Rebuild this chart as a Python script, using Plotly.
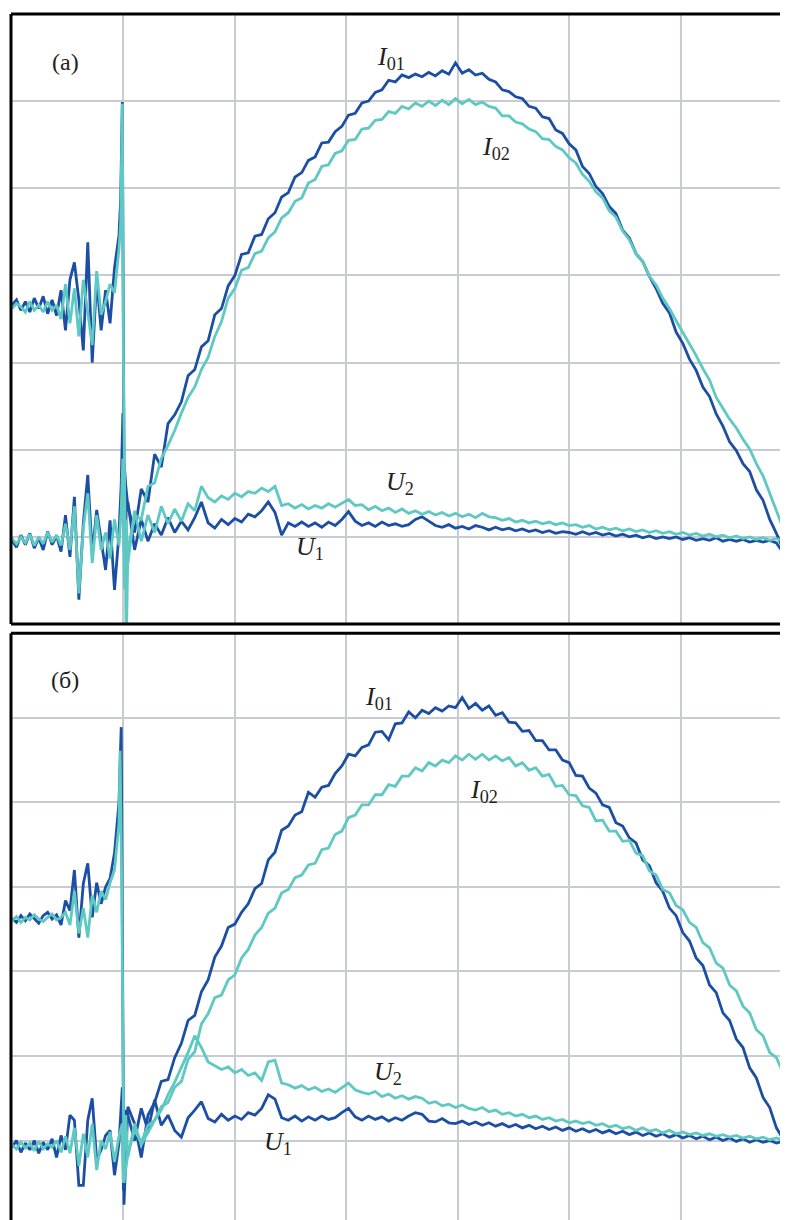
import numpy as np
import plotly.graph_objects as go

# oscillograms, values in screen divisions (7 x 7 grid per panel)
# sampling: pre-trigger every 0.04 div from 0, post-trigger every 0.06 div from 1.04
PRE_STEP, POST_START, POST_STEP = 0.04, 1.04, 0.06

# ---------------- panel (a) ----------------
a_i01_pre = [3.66, 3.72, 3.60, 3.70, 3.58, 3.74, 3.62, 3.76, 3.56, 3.72,
             3.54, 3.83, 3.37, 3.95, 4.15, 3.72, 3.14, 4.38, 3.00, 3.95,
             3.37, 3.83, 3.45, 4.09, 4.46]
a_i01_spk_x = [0.975, 0.99, 1.005, 1.02]
a_i01_spk = [4.87, 5.99, 1.88, 1.60]
a_i01_post = [1.35, 1.05, 1.55, 1.40, 1.95, 1.80, 2.30, 2.40, 2.55, 2.85,
              2.92, 3.18, 3.25, 3.55, 3.62, 3.88, 4.00, 4.24, 4.26, 4.45,
              4.47, 4.65, 4.72, 4.90, 4.95, 5.13, 5.18, 5.32, 5.36, 5.52,
              5.53, 5.65, 5.71, 5.84, 5.86, 5.98, 6.00, 6.10, 6.13, 6.24,
              6.22, 6.30, 6.27, 6.31, 6.28, 6.33, 6.29, 6.35, 6.31, 6.44,
              6.32, 6.36, 6.30, 6.32, 6.25, 6.22, 6.13, 6.11, 6.05, 6.03,
              5.94, 5.92, 5.82, 5.80, 5.67, 5.63, 5.51, 5.44, 5.25, 5.17,
              5.02, 4.94, 4.79, 4.71, 4.52, 4.43, 4.25, 4.16, 3.99, 3.85,
              3.68, 3.57, 3.35, 3.22, 3.04, 2.91, 2.72, 2.61, 2.41, 2.27,
              2.09, 1.99, 1.84, 1.75, 1.54, 1.42, 1.20, 1.04, 0.86, 0.95]

a_i02_pre = [3.62, 3.68, 3.64, 3.58, 3.70, 3.60, 3.66, 3.58, 3.70, 3.60,
             3.66, 3.50, 3.90, 3.45, 3.85, 3.30, 3.95, 3.55, 3.20, 4.05,
             3.55, 3.70, 3.90, 3.80, 4.30]
a_i02_spk_x = [0.975, 0.99, 1.0, 1.025]
a_i02_spk = [4.60, 5.97, 3.00, -0.30]
a_i02_post = [0.85, 1.25, 1.20, 1.58, 1.62, 1.90, 2.05, 2.22, 2.42, 2.60,
              2.72, 2.92, 3.06, 3.30, 3.47, 3.74, 3.85, 4.06, 4.09, 4.25,
              4.28, 4.43, 4.50, 4.66, 4.72, 4.85, 4.89, 5.06, 5.10, 5.25,
              5.27, 5.40, 5.43, 5.55, 5.56, 5.68, 5.69, 5.78, 5.79, 5.88,
              5.86, 5.94, 5.91, 5.98, 5.94, 6.00, 5.95, 6.01, 5.96, 6.03,
              5.97, 6.02, 5.96, 5.99, 5.94, 5.92, 5.83, 5.83, 5.76, 5.74,
              5.68, 5.65, 5.57, 5.56, 5.48, 5.44, 5.35, 5.29, 5.16, 5.08,
              4.96, 4.89, 4.74, 4.67, 4.51, 4.41, 4.25, 4.16, 3.99, 3.89,
              3.74, 3.62, 3.48, 3.35, 3.21, 3.08, 2.93, 2.80, 2.60, 2.48,
              2.35, 2.25, 2.12, 2.01, 1.84, 1.70, 1.50, 1.30, 1.10, 0.90]

a_u1_pre = [0.96, 0.88, 1.02, 0.91, 1.04, 0.87, 0.99, 0.85, 1.06, 0.91,
            1.01, 0.83, 1.25, 0.77, 1.46, 0.28, 1.16, 1.71, 0.81, 1.31,
            0.96, 0.62, 1.19, 0.39, 1.04]
a_u1_spk_x = [0.98, 0.995, 1.01, 1.025]
a_u1_spk = [1.60, 2.42, 0.60, 1.30]
a_u1_post = [1.40, 0.85, 1.20, 0.95, 1.15, 1.02, 1.22, 1.05, 1.18, 1.08,
             1.22, 1.40, 1.16, 1.10, 1.20, 1.14, 1.21, 1.17, 1.26, 1.23,
             1.30, 1.40, 1.28, 1.02, 1.16, 1.12, 1.17, 1.12, 1.16, 1.11,
             1.17, 1.13, 1.20, 1.29, 1.18, 1.13, 1.16, 1.12, 1.17, 1.13,
             1.15, 1.12, 1.14, 1.20, 1.23, 1.18, 1.13, 1.11, 1.14, 1.10,
             1.12, 1.09, 1.13, 1.11, 1.08, 1.11, 1.08, 1.10, 1.07, 1.09,
             1.06, 1.08, 1.05, 1.07, 1.04, 1.06, 1.05, 1.03, 1.06, 1.03,
             1.05, 1.02, 1.04, 1.01, 1.03, 1.00, 1.02, 0.99, 1.01, 0.98,
             1.00, 0.98, 1.00, 0.97, 0.99, 0.96, 0.98, 0.96, 0.99, 0.95,
             0.97, 0.95, 0.97, 0.94, 0.96, 0.94, 0.96, 0.93, 0.82, 0.92]

a_u2_pre = [0.98, 0.92, 1.00, 0.93, 1.03, 0.90, 1.00, 0.92, 1.05, 0.94,
            1.02, 0.90, 1.15, 0.85, 1.35, 0.35, 1.10, 1.50, 0.70, 1.25,
            0.85, 1.05, 0.75, 1.20, 0.90]
a_u2_spk_x = [0.98, 0.995, 1.01, 1.025]
a_u2_spk = [1.30, 1.90, 0.40, 1.20]
a_u2_post = [0.70, 1.30, 0.95, 1.25, 1.05, 1.35, 1.15, 1.32, 1.18, 1.38,
             1.30, 1.58, 1.45, 1.40, 1.47, 1.43, 1.50, 1.46, 1.52, 1.50,
             1.56, 1.52, 1.58, 1.36, 1.38, 1.33, 1.37, 1.32, 1.36, 1.33,
             1.38, 1.34, 1.39, 1.43, 1.36, 1.37, 1.31, 1.35, 1.30, 1.33,
             1.28, 1.32, 1.27, 1.30, 1.26, 1.29, 1.25, 1.28, 1.24, 1.27,
             1.23, 1.26, 1.22, 1.27, 1.23, 1.22, 1.19, 1.21, 1.17, 1.19,
             1.16, 1.18, 1.15, 1.17, 1.14, 1.16, 1.13, 1.14, 1.11, 1.13,
             1.09, 1.11, 1.08, 1.10, 1.07, 1.09, 1.06, 1.08, 1.05, 1.07,
             1.04, 1.06, 1.03, 1.05, 1.02, 1.04, 1.01, 1.03, 1.00, 1.02,
             0.99, 1.01, 0.98, 1.00, 0.97, 0.99, 0.96, 0.98, 0.95, 0.93]

# ---------------- panel (б) ----------------
b_i01_pre = [3.63, 3.58, 3.66, 3.60, 3.68, 3.62, 3.57, 3.66, 3.70, 3.62,
             3.67, 3.55, 3.84, 3.72, 4.20, 3.40, 4.04, 4.28, 3.64, 4.05,
             3.80, 4.00, 4.10, 4.40, 5.00]
b_i01_spk_x = [0.98, 0.995, 1.005]
b_i01_spk = [5.89, 3.20, 0.24]
b_i01_post = [1.40, 1.20, 0.80, 1.30, 1.45, 1.70, 1.72, 1.98, 2.15, 2.42,
              2.48, 2.76, 2.90, 3.17, 3.30, 3.52, 3.56, 3.70, 3.80, 3.98,
              4.04, 4.32, 4.41, 4.67, 4.72, 4.85, 4.89, 5.12, 5.06, 5.18,
              5.20, 5.34, 5.43, 5.57, 5.55, 5.65, 5.68, 5.83, 5.84, 5.74,
              5.93, 5.94, 6.07, 6.00, 6.09, 6.05, 6.12, 6.08, 6.14, 6.12,
              6.24, 6.11, 6.17, 6.09, 6.14, 6.03, 6.06, 5.95, 5.94, 5.84,
              5.85, 5.73, 5.73, 5.62, 5.62, 5.50, 5.47, 5.32, 5.31, 5.17,
              5.11, 4.97, 4.94, 4.76, 4.72, 4.58, 4.52, 4.32, 4.25, 4.05,
              3.95, 3.75, 3.66, 3.46, 3.36, 3.16, 3.07, 2.84, 2.75, 2.51,
              2.42, 2.20, 2.10, 1.86, 1.74, 1.51, 1.39, 1.15, 1.02, 0.93]

b_i02_pre = [3.60, 3.65, 3.58, 3.64, 3.61, 3.67, 3.62, 3.59, 3.64, 3.68,
             3.61, 3.64, 3.70, 3.55, 3.95, 3.45, 3.75, 3.40, 3.90, 3.70,
             3.95, 3.85, 4.05, 4.20, 4.75]
b_i02_spk_x = [0.97, 0.985, 1.005]
b_i02_spk = [5.61, 4.00, 0.50]
b_i02_post = [0.85, 1.12, 0.98, 1.18, 1.24, 1.40, 1.45, 1.63, 1.70, 1.96,
              2.05, 2.38, 2.50, 2.69, 2.72, 2.90, 2.96, 3.16, 3.26, 3.43,
              3.52, 3.69, 3.75, 3.93, 3.97, 4.11, 4.14, 4.26, 4.28, 4.44,
              4.46, 4.62, 4.66, 4.82, 4.85, 4.97, 4.97, 5.09, 5.09, 5.21,
              5.19, 5.31, 5.31, 5.41, 5.37, 5.47, 5.43, 5.50, 5.47, 5.55,
              5.50, 5.57, 5.51, 5.57, 5.50, 5.55, 5.49, 5.53, 5.43, 5.47,
              5.38, 5.41, 5.31, 5.33, 5.19, 5.20, 5.09, 5.08, 4.96, 4.94,
              4.78, 4.79, 4.66, 4.66, 4.54, 4.55, 4.40, 4.37, 4.19, 4.14,
              3.97, 3.93, 3.78, 3.73, 3.58, 3.52, 3.34, 3.28, 3.10, 3.04,
              2.84, 2.77, 2.59, 2.51, 2.31, 2.24, 2.04, 1.98, 1.80, 1.74]

b_u1_pre = [0.92, 1.00, 0.86, 0.97, 0.89, 1.00, 0.85, 0.98, 0.89, 1.02,
            0.80, 1.06, 0.89, 1.30, 1.24, 0.47, 0.47, 1.24, 1.50, 0.77,
            0.89, 1.06, 1.12, 0.59, 0.97]
b_u1_spk_x = [0.99, 1.0, 1.02]
b_u1_spk = [1.63, 0.41, 1.36]
b_u1_post = [1.30, 1.00, 1.38, 1.12, 1.48, 1.18, 1.30, 1.12, 1.04, 1.27,
             1.36, 1.46, 1.26, 1.22, 1.31, 1.24, 1.29, 1.25, 1.33, 1.30,
             1.38, 1.54, 1.49, 1.27, 1.24, 1.29, 1.23, 1.28, 1.24, 1.29,
             1.25, 1.27, 1.33, 1.38, 1.28, 1.24, 1.29, 1.25, 1.28, 1.23,
             1.27, 1.24, 1.29, 1.33, 1.31, 1.23, 1.22, 1.26, 1.21, 1.20,
             1.23, 1.19, 1.22, 1.18, 1.21, 1.17, 1.20, 1.16, 1.19, 1.15,
             1.18, 1.14, 1.17, 1.13, 1.16, 1.12, 1.15, 1.11, 1.14, 1.10,
             1.13, 1.09, 1.12, 1.08, 1.11, 1.07, 1.10, 1.06, 1.09, 1.05,
             1.08, 1.04, 1.07, 1.03, 1.06, 1.02, 1.05, 1.01, 1.04, 1.00,
             1.03, 0.99, 1.02, 0.98, 1.01, 0.98, 1.00, 0.97, 0.99, 0.97]

b_u2_pre = [0.95, 0.90, 0.98, 0.91, 0.97, 0.88, 0.99, 0.90, 0.96, 0.92,
            1.00, 0.86, 1.05, 0.85, 1.15, 0.70, 1.08, 0.80, 1.20, 0.65,
            1.00, 0.90, 1.10, 0.75, 1.05]
b_u2_spk_x = [0.99, 1.0, 1.02]
b_u2_spk = [1.20, 0.50, 1.30]
b_u2_post = [0.80, 1.20, 0.95, 1.10, 1.24, 1.36, 1.54, 1.69, 1.86, 2.04,
             2.24, 2.10, 1.93, 1.88, 1.84, 1.87, 1.80, 1.84, 1.77, 1.80,
             1.71, 1.93, 1.95, 1.68, 1.66, 1.62, 1.65, 1.60, 1.63, 1.58,
             1.61, 1.57, 1.62, 1.68, 1.60, 1.57, 1.55, 1.58, 1.52, 1.55,
             1.50, 1.53, 1.49, 1.52, 1.50, 1.44, 1.46, 1.41, 1.43, 1.39,
             1.42, 1.38, 1.36, 1.39, 1.34, 1.36, 1.31, 1.33, 1.29, 1.31,
             1.27, 1.29, 1.25, 1.27, 1.23, 1.25, 1.21, 1.23, 1.20, 1.22,
             1.18, 1.20, 1.16, 1.18, 1.14, 1.16, 1.12, 1.15, 1.11, 1.13,
             1.09, 1.12, 1.08, 1.10, 1.07, 1.09, 1.06, 1.08, 1.05, 1.07,
             1.04, 1.06, 1.03, 1.05, 1.02, 1.04, 1.01, 1.03, 1.00, 1.02]

BLUE = "#1c4fa3"
CYAN = "#5ec8c3"
GRID = "#c8ccd1"
SERIF = "Liberation Serif, Times New Roman, serif"


def trace(pre, spk_x, spk, post):
    x = np.concatenate([np.arange(len(pre)) * PRE_STEP, spk_x,
                        POST_START + np.arange(len(post)) * POST_STEP])
    y = np.concatenate([pre, spk, post])
    return x, y


fig = go.Figure()
panels = [
    ("x", "y", [(a_i01_pre, a_i01_spk_x, a_i01_spk, a_i01_post, BLUE),
                (a_u1_pre, a_u1_spk_x, a_u1_spk, a_u1_post, BLUE),
                (a_i02_pre, a_i02_spk_x, a_i02_spk, a_i02_post, CYAN),
                (a_u2_pre, a_u2_spk_x, a_u2_spk, a_u2_post, CYAN)]),
    ("x2", "y2", [(b_i01_pre, b_i01_spk_x, b_i01_spk, b_i01_post, BLUE),
                  (b_u1_pre, b_u1_spk_x, b_u1_spk, b_u1_post, BLUE),
                  (b_i02_pre, b_i02_spk_x, b_i02_spk, b_i02_post, CYAN),
                  (b_u2_pre, b_u2_spk_x, b_u2_spk, b_u2_post, CYAN)]),
]
for xa, ya, series in panels:
    for pre, sx, sy, post, col in series:
        x, y = trace(pre, sx, sy, post)
        fig.add_trace(go.Scatter(x=x, y=y, xaxis=xa, yaxis=ya, mode="lines",
                                 line=dict(color=col, width=2.8),
                                 showlegend=False, hoverinfo="skip"))

# page body has an 8px margin, so the figure is 8px smaller than the window
H, W = 1212, 780
T, L = 6, 3
ph = H - T   # 1206 px of plot height (window rows 14..1220)


def pap(p):
    # window pixel row -> paper fraction
    return (1220 - p) / ph


ax = dict(showgrid=True, gridcolor=GRID, gridwidth=1.5, dtick=1, tick0=0,
          showticklabels=False, zeroline=False, showline=False, ticks="")
fig.update_layout(
    width=W, height=H, margin=dict(l=L, r=0, t=T, b=0),
    paper_bgcolor="white", plot_bgcolor="white",
    xaxis=dict(ax, range=[-0.009, 6.964], domain=[0, 1], anchor="y"),
    yaxis=dict(ax, range=[0, 7], domain=[pap(624), 1.0], anchor="x"),
    xaxis2=dict(ax, range=[-0.009, 6.964], domain=[0, 1], anchor="y2"),
    yaxis2=dict(ax, range=[0.06, 7], domain=[0, pap(633.3)], anchor="x2"),
)

# panel frames (left, top, and bottom of the upper panel)
border = dict(color="black", width=3)
for x0, y0, x1, y1 in [(0, pap(624), 0, 1.0), (0, 1.0, 1.0, 1.0),
                       (0, pap(624), 1.0, pap(624)),
                       (0, 0, 0, pap(633.3)), (0, pap(633.3), 1.0, pap(633.3))]:
    fig.add_shape(type="line", xref="paper", yref="paper",
                  x0=x0, y0=y0, x1=x1, y1=y1, line=border, layer="above")

labels = [
    ("x", "y", 0.48, 6.45, "(a)", 24),
    ("x", "y", 3.40, 6.50, "<i>I</i><sub>01</sub>", 26),
    ("x", "y", 4.34, 5.46, "<i>I</i><sub>02</sub>", 26),
    ("x", "y", 3.48, 1.62, "<i>U</i><sub>2</sub>", 26),
    ("x", "y", 2.67, 0.87, "<i>U</i><sub>1</sub>", 26),
    ("x2", "y2", 0.48, 6.45, "(б)", 24),
    ("x2", "y2", 3.29, 6.24, "<i>I</i><sub>01</sub>", 26),
    ("x2", "y2", 4.24, 5.14, "<i>I</i><sub>02</sub>", 26),
    ("x2", "y2", 3.37, 1.80, "<i>U</i><sub>2</sub>", 26),
    ("x2", "y2", 2.39, 0.97, "<i>U</i><sub>1</sub>", 26),
]
for xr, yr, x, y, txt, size in labels:
    fig.add_annotation(xref=xr, yref=yr, x=x, y=y, text=txt, showarrow=False,
                       font=dict(family=SERIF, size=size, color="#231f20"))

fig.write_html("out.html")
